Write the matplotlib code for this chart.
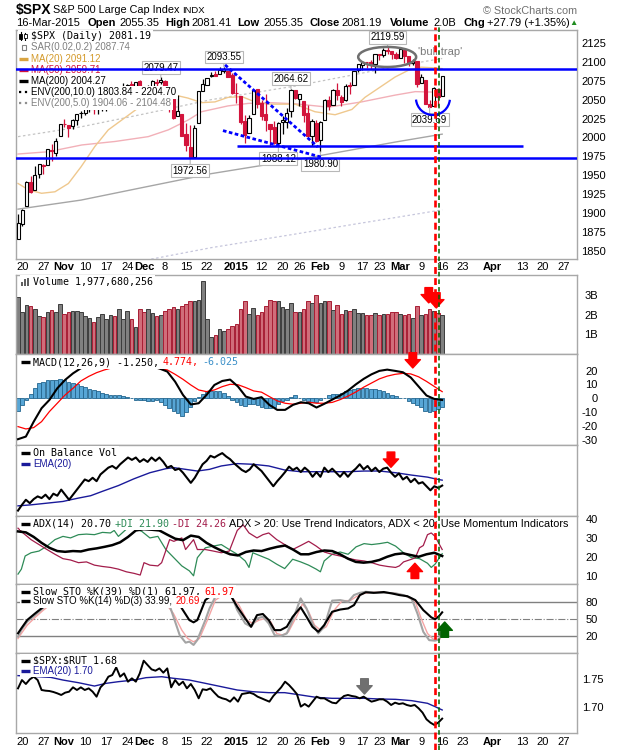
import numpy as np
import pandas as pd
import matplotlib
matplotlib.use("Agg")
import matplotlib.pyplot as plt
import matplotlib.transforms as mtransforms
from matplotlib.patches import Rectangle, Ellipse, Arc
from matplotlib.lines import Line2D
from matplotlib.offsetbox import TextArea, HPacker, DrawingArea, AnchoredOffsetbox

plt.rcParams['font.family'] = ['Liberation Sans', 'DejaVu Sans']
plt.rcParams['text.parse_math'] = False
MONO = 'DejaVu Sans Mono'

# ---------------- data ----------------
holidays = ['2014-11-27', '2014-12-25', '2015-01-01', '2015-01-19', '2015-02-16', '2015-04-03']
tick_dates = ['2014-10-20', '2014-10-27', '2014-11-03', '2014-11-10', '2014-11-17', '2014-11-24',
              '2014-12-01', '2014-12-08', '2014-12-15', '2014-12-22', '2015-01-02', '2015-01-12',
              '2015-01-20', '2015-01-26', '2015-02-02', '2015-02-09', '2015-02-17', '2015-02-23',
              '2015-03-02', '2015-03-09', '2015-03-16', '2015-03-23', '2015-04-01', '2015-04-13',
              '2015-04-20', '2015-04-27']
tick_labels = ['20', '27', 'Nov', '10', '17', '24', 'Dec', '8', '15', '22', '2015', '12',
               '20', '26', 'Feb', '9', '17', '23', 'Mar', '9', '16', '23', 'Apr', '13', '20', '27']
bold_labels = ['Nov', 'Dec', '2015', 'Feb', 'Mar', 'Apr']

prev_close0 = 1862.76
opens = [1864.9, 1885.6, 1909.4, 1941.3, 1931.0, 1951.6, 1962.97, 1964.1, 1983.3, 1979.5, 2001.2,
         2018.2, 2015.8, 2015.3, 2023.3, 2032.4, 2032.0, 2038.2, 2037.8, 2039.2, 2039.7, 2038.3, 2041.5,
         2051.2, 2046.3, 2057.5, 2065.1, 2070.1, 2067.0, 2074.8,
         2065.8, 2053.8, 2067.0, 2073.6, 2072.8, 2074.8, 2056.6, 2058.9, 2027.9, 2030.4, 2005.0, 1986.7,
         1973.8, 2018.98, 2061.0, 2069.3, 2081.5, 2083.3, 2084.3, 2087.6, 2088.5, 2082.1,
         2058.9, 2054.4, 2022.2, 2005.6, 2030.6, 2063.45, 2046.1, 2031.6, 2018.4, 2013.75, 1992.25, 2020.8,
         2020.2, 2034.3, 2062.98, 2050.4, 2047.9, 2032.3, 2002.45, 2019.35,
         1996.7, 2022.7, 2048.9, 2043.45, 2062.3, 2053.5, 2049.4, 2068.55, 2069.98, 2088.8, 2096.5, 2099.2,
         2099.25, 2097.65, 2109.8, 2109.1, 2115.3, 2113.9, 2110.9,
         2105.2, 2115.8, 2107.7, 2098.5, 2100.9, 2072.25, 2076.1, 2044.7, 2041.1, 2064.6, 2055.35]
highs = [1898.2, 1905.0, 1942.5, 1949.3, 1961.9, 1965.3, 1964.6, 1985.1, 1991.4, 1999.4, 2018.2,
         2024.5, 2015.98, 2023.8, 2031.6, 2034.3, 2038.7, 2039.3, 2040.3, 2046.2, 2041.3, 2043.1, 2056.1,
         2052.1, 2054.7, 2071.5, 2070.2, 2074.2, 2073.4, 2075.8,
         2065.8, 2068.8, 2076.3, 2077.3, 2079.47, 2075.8, 2060.6, 2058.9, 2055.5, 2030.4, 2018.7, 2016.9,
         2016.8, 2061.2, 2077.9, 2078.8, 2086.7, 2087.3, 2092.7, 2093.55, 2088.5, 2085.6,
         2072.4, 2054.4, 2030.3, 2029.6, 2064.1, 2064.4, 2049.3, 2056.9, 2018.4, 2021.35, 2020.5, 2028.9,
         2038.3, 2064.62, 2062.98, 2057.6, 2047.9, 2042.5, 2024.6, 2023.3,
         2021.7, 2050.3, 2054.7, 2063.55, 2072.4, 2056.2, 2070.9, 2073.5, 2088.5, 2097.0, 2101.3, 2100.2,
         2102.1, 2110.6, 2110.05, 2117.9, 2119.59, 2113.9, 2112.7,
         2117.5, 2115.8, 2107.7, 2104.25, 2100.9, 2083.5, 2076.1, 2050.1, 2066.4, 2064.6, 2081.41]
lows = [1864.9, 1882.3, 1909.4, 1926.8, 1931.0, 1946.3, 1951.4, 1964.1, 1969.0, 1974.8, 2001.2,
        2013.7, 2001.0, 2010.7, 2015.9, 2025.6, 2030.2, 2033.1, 2031.3, 2030.4, 2035.3, 2034.5, 2041.5,
        2040.4, 2042.5, 2056.8, 2065.1, 2064.75, 2066.6, 2065.1,
        2049.6, 2053.8, 2066.6, 2062.3, 2070.8, 2054.3, 2034.2, 2024.3, 2027.9, 2002.3, 1982.3, 1972.56,
        1973.8, 2018.98, 2061.0, 2069.3, 2079.8, 2081.9, 2084.3, 2085.75, 2079.5, 2057.9,
        2046.0, 2017.3, 1992.4, 2005.6, 2030.6, 2038.3, 2022.6, 2008.25, 1988.4, 1991.5, 1988.12, 2004.5,
        2012.0, 2026.4, 2050.5, 2041.2, 2019.9, 2001.5, 1989.2, 1993.4,
        1980.9, 2022.7, 2036.7, 2043.45, 2049.97, 2041.9, 2048.6, 2057.99, 2069.98, 2086.7, 2089.8, 2092.15,
        2090.8, 2085.4, 2103.0, 2105.9, 2109.9, 2103.8, 2103.75,
        2104.5, 2098.3, 2094.5, 2095.2, 2067.3, 2072.2, 2044.2, 2039.69, 2041.1, 2041.2, 2055.35]
closes = [1886.8, 1904.0, 1941.3, 1927.1, 1950.8, 1964.6, 1961.6, 1985.1, 1982.3, 1994.7, 2018.1,
          2017.8, 2012.1, 2023.6, 2031.2, 2032.0, 2038.3, 2039.7, 2038.3, 2039.3, 2039.8, 2041.3, 2051.8,
          2048.7, 2052.75, 2063.5, 2069.4, 2067.0, 2072.8, 2067.6,
          2053.4, 2066.6, 2074.3, 2071.9, 2075.4, 2060.3, 2059.8, 2026.1, 2035.3, 2002.3, 1989.6, 1972.7,
          2012.9, 2061.2, 2070.65, 2078.5, 2082.2, 2081.9, 2088.8, 2090.6, 2080.35, 2058.9,
          2058.2, 2020.6, 2002.6, 2025.9, 2062.1, 2044.8, 2028.3, 2023.0, 2011.3, 1992.7, 2019.4, 2022.55,
          2032.1, 2063.15, 2051.8, 2057.1, 2029.55, 2002.2, 2021.25, 1994.99,
          2020.85, 2050.0, 2041.5, 2062.5, 2055.5, 2046.7, 2068.6, 2068.5, 2088.5, 2096.99, 2100.3, 2099.7,
          2097.45, 2110.3, 2109.66, 2115.5, 2113.9, 2110.7, 2104.5,
          2117.4, 2107.8, 2098.5, 2101.0, 2071.3, 2079.4, 2044.2, 2040.2, 2065.95, 2053.4, 2081.19]

high_marks = [34, 49, 65, 88]
low_marks = [41, 62, 72, 98]

ma20_day = [0, 2.5, 5.6, 8.8, 12, 15, 18.3, 21.5, 24.7, 27.9, 31, 34.2, 37.4, 40.5, 43.7, 46.9, 50,
            53.3, 56.4, 59.6, 62.8, 66, 70.7, 75.5, 79.5, 82.6, 86.6, 89.8, 93, 96, 99.3, 101]
ma20_val = [1939, 1930.6, 1926, 1928, 1939, 1961, 1988, 2010, 2023, 2036, 2049.6, 2054, 2056, 2052,
            2046, 2047, 2053, 2054, 2047, 2044, 2044, 2044, 2034, 2030, 2037, 2053, 2068, 2080, 2089,
            2093, 2092, 2091.1]
ma50_day = [0, 7.2, 15.2, 23.1, 31, 35.8, 40.5, 43.7, 50, 54.8, 60, 66, 73.9, 81.8, 89.8, 94.6, 101]
ma50_val = [1978, 1981, 1990, 1994.6, 2001, 2010, 2023, 2034, 2041.7, 2045, 2046, 2044.5, 2040, 2047,
            2056, 2060.6, 2059.7]
ma200_day = [0, 15, 30, 46, 66, 80, 90, 101]
ma200_val = [1905, 1917, 1934, 1952, 1970, 1984, 1994, 2004.3]
env_up_val = [2001, 2014, 2031, 2050, 2068, 2083, 2094, 2104.5]
env_lo_val = [1810, 1821, 1837, 1854, 1872, 1885, 1894, 1904.1]

volume_b = [2.92, 2.15, 2.53, 2.44, 2.29, 1.93, 1.88, 2.15, 2.26, 2.14, 2.56, 2.05, 2.15, 2.22, 2.22,
            2.15, 1.93, 1.85, 1.64, 1.88, 2.05, 1.81, 1.98, 1.95, 2.32, 1.81, 2.22, 1.81, 1.37, 2.32,
            2.15, 2.31, 2.10, 1.93, 1.98, 2.22, 2.29, 2.41, 2.31, 2.46, 2.56, 2.74, 2.70, 2.75, 3.76,
            1.81, 0.85, 0.99, 1.30, 1.16, 1.30, 1.42, 1.54, 2.32, 2.74, 2.05, 2.36, 1.98, 2.14, 2.44,
            2.77, 2.70, 2.70, 2.39, 2.31, 2.62, 2.14, 2.14, 2.32, 2.74, 2.60, 3.01, 2.60, 2.74, 2.70,
            2.27, 2.53, 2.05, 2.27, 2.19, 2.32, 2.10, 2.10, 1.98, 2.02, 2.10, 2.02, 2.05, 2.05, 2.15,
            2.15, 2.05, 2.02, 2.05, 1.85, 2.44, 1.98, 2.05, 2.32, 2.22, 2.12, 1.98]

macd_line = [-29.6, -27.7, -16.9, -7.2, -1.2, 7.2, 13.3, 18, 21.7, 24, 25.5, 26.5, 27, 27, 26.5, 25.5,
             24.5, 23, 21.5, 19.3, 12, 2.4, -4.5, -3.6, 2.4, 9.6, 12.5, 13.5, 8.5, 1.2, -0.5, 0.8, -4.8,
             -8.4, -8.4, -4.8, -2.9, -3.6, -6.7, -4, -1, 2, 5.5, 10, 14, 17.3, 19.8, 20.7, 19.8, 18.8,
             15, 8.5, 2, -0.5, -1.25]
macd_signal = [-20.5, -22.2, -21.2, -16.9, -9.6, -3.6, 2.4, 7.2, 12.5, 15.8, 18.5, 20.5, 22, 23, 23.5,
               23.5, 23, 22.3, 21.5, 20.5, 17.3, 13.7, 9.6, 6, 4.8, 6, 8.4, 10.1, 9.8, 7.7, 5.3, 4.4,
               1.2, -1.9, -3.6, -4.3, -3.6, -2.9, -3.6, -3.6, -3, -1, 1.5, 4.5, 8, 11, 14, 16, 17.3,
               18, 17.6, 15.5, 12.2, 8.5, 4.77]
macd_hist = [-9, -5, -1, 3, 7.5, 11, 12, 13, 13, 13.5, 14, 13, 12, 11, 10, 9, 8, 7, 6, 5, 4, 3, 2.5, 2,
             2, 1.5, 1, 0.5, -1, -1.5, -1.5, -2, -2, -1.5, -3, -5, -7, -9, -10.5, -13, -10, -6, -2, 1,
             3, 4.5, 5, 5, 5, 3.5, 1.5, -1, -3, -5, -5.5, -4, -4.5, -5, -6, -7, -7, -6, -4, -2, -1, 1,
             2, 0.5, -1, -2, -3, -3, -1, 0, 2, 3, 3, 4, 5, 6, 7, 7.5, 7.5, 7.5, 7, 6.5, 6, 5, 3.5, 2.5,
             1.5, 0.5, 0, -2, -3.5, -5, -6.5, -9, -10, -9.5, -8, -6]

obv = [1.6, 3.3, 4.8, 3.8, 5.0, 5.8, 5.3, 6.3, 5.0, 6.6, 6.0, 7.8, 6.3, 4.8, 6.3, 7.8, 9.3, 10.8, 10.3,
       11.3, 10.3, 12.3, 13.3, 14.3, 14.8, 14.0, 15.3, 16.3, 17.3, 16.6, 17.3, 16.0, 16.8, 16.0, 17.3,
       16.3, 17.3, 16.0, 14.3, 14.8, 13.6, 14.0, 12.8, 11.3, 9.8, 11.3, 13.3, 15.3, 16.3, 17.8, 17.3,
       18.0, 18.6, 17.6, 16.8, 15.6, 14.6, 13.6, 13.0, 13.8, 15.3, 14.3, 13.3, 11.8, 10.3, 8.8, 10.3,
       11.6, 13.0, 14.6, 13.6, 14.3, 13.0, 14.3, 13.3, 11.6, 13.0, 11.6, 14.3, 13.0, 14.0, 12.8, 11.6,
       13.0, 11.6, 13.0, 14.0, 15.3, 13.8, 14.8, 13.3, 14.3, 13.0, 14.0, 14.3, 12.8, 11.6, 12.6, 10.8,
       11.6, 10.0, 11.0, 9.6, 10.0, 8.8, 7.6, 8.8, 8.3, 9.0]
obv_ema_day = [0, 3.1, 6.9, 10.7, 12.5, 14.4, 17.3, 20.1, 23.9, 27.6, 31.4, 35.2, 37.1, 39.9, 42.7,
               45.6, 48.4, 52.2, 55.9, 59.7, 63.5, 67.3, 71, 74.8, 78.6, 82.4, 86.1, 89.9, 93.7, 97.5,
               99.3, 101]
obv_ema_val = [3.0, 3.3, 3.8, 4.3, 4.8, 5.3, 6.0, 7.3, 9.0, 11.0, 12.8, 14.0, 14.3, 13.8, 13.3, 13.8,
               14.8, 15.5, 15.3, 14.8, 13.6, 13.1, 13.1, 13.1, 13.1, 13.3, 13.3, 12.8, 12.1, 11.5, 11.0,
               10.6]

adx = [33.6, 33.1, 30.7, 27.6, 25, 23.3, 22.9, 23.3, 23.1, 24.1, 24.7, 25.5, 26.4, 27.9, 30.7, 34.1,
       34.8, 34.5, 34.1, 31.9, 29.8, 29, 31.4, 30.7, 27.6, 25.3, 23.3, 21.6, 21, 22.8, 23.6, 23.3, 24.5,
       25.5, 26.2, 24.1, 21.6, 21.6, 22.8, 23.6, 23.3, 21.6, 19.3, 17.6, 17.2, 17.6, 18.6, 20.3, 21.6,
       22.1, 21.2, 20.3, 21.6, 22.4, 20.7]
pdi_day = [0, 0.8, 1.7, 3.1, 5.0, 6.9, 8.8, 10.7, 12.5, 14.4, 16.3, 18.2, 20.1, 22.0, 22.9, 23.9, 25.8,
           27.6, 29.5, 31.4, 33.3, 35.2, 37.1, 39.0, 40.8, 41.8, 42.7, 44.6, 46.5, 48.4, 50.3, 52.2,
           54.1, 55.0, 55.9, 57.8, 59.7, 61.6, 63.5, 65.4, 67.3, 69.2, 71.0, 72.0, 72.9, 74.8, 76.7,
           78.6, 80.5, 82.4, 84.2, 86.1, 88.0, 89.9, 91.8, 93.7, 95.6, 97.5, 98.4, 99.3, 101]
pdi_val = [11.2, 13.8, 20.7, 22.4, 23.3, 25.9, 29.3, 31, 30.2, 31.9, 32.2, 31.9, 33.1, 32.8, 34.1, 31,
           34.8, 35.3, 33.6, 30.2, 31, 24.1, 19.8, 15.5, 12.9, 10.3, 19.8, 25, 25.9, 26.7, 24.1, 21.6,
           18.1, 14.7, 22.4, 20.7, 19, 16.4, 14.1, 19, 17.6, 15.9, 13.8, 12.4, 18.1, 21.6, 22.8, 21.6,
           25.5, 27.2, 26.7, 27.2, 27.9, 25.9, 22.4, 19.8, 19.3, 16.9, 14.7, 16.4, 21.9]
mdi_day = [0, 1.2, 3.1, 5.0, 6.9, 8.8, 10.7, 12.5, 14.4, 16.3, 18.2, 20.1, 22.0, 23.9, 25.8, 27.6, 29.1,
           30.0, 31.4, 33.3, 34.2, 36.1, 37.1, 39.0, 39.9, 41.8, 42.7, 44.6, 46.5, 48.4, 50.3, 52.2,
           53.6, 55.0, 56.9, 58.3, 59.7, 61.6, 63.5, 65.4, 67.3, 69.2, 71.0, 72.9, 74.8, 76.7, 78.6,
           80.5, 82.4, 84.2, 86.1, 88.0, 89.9, 90.8, 91.8, 93.7, 94.6, 95.6, 96.5, 97.5, 98.4, 99.3, 101]
mdi_val = [35.3, 32.8, 29.3, 26.7, 24.1, 21.6, 19.3, 18.6, 17.2, 17.6, 15.9, 15.2, 14.7, 13.8, 12.4,
           11.6, 10.7, 17.2, 15.9, 15.5, 17.2, 29.3, 28.4, 30.2, 24.1, 29.3, 24.1, 24.1, 23.3, 22.4,
           23.3, 34.1, 37.1, 32.8, 30.2, 31.9, 32.8, 29.3, 26.7, 24.1, 26.2, 28.4, 25.9, 22.8, 21.6,
           20.7, 19.5, 18.6, 18.1, 17.2, 15.9, 15.2, 14.7, 15.5, 17.6, 19, 19.8, 25, 26.2, 31.9, 32.8,
           31, 24.1]

sto39_day = [0, 0.8, 2.2, 4.1, 5.9, 6.9, 8, 10, 13, 16, 20, 25, 30, 34, 36.5, 38.5, 40.8, 41.8, 42.7,
             44.6, 46.5, 48.5, 50.8, 52.2, 54.1, 55.5, 56.9, 58.3, 59.7, 61.1, 62.5, 64, 65.4, 67.3,
             68.7, 70.1, 71.5, 72.9, 74.8, 76.7, 78.6, 80, 81.4, 82.8, 84.7, 87.1, 89, 90.8, 92.7, 94.6,
             96.5, 98.4, 99.3, 100.3, 101]
sto39_val = [24.3, 33.3, 48.3, 60.2, 71, 75, 82, 88, 94, 97, 98, 98, 95, 96, 90, 75, 48, 44, 48, 84,
             95, 96, 90, 72, 51, 36, 57, 59, 48, 30, 30, 36, 54, 71, 54, 36, 27, 39, 63, 67, 69, 75, 93,
             98, 97, 98.5, 96, 93, 91, 84, 66, 53, 49.5, 55.5, 62]
sto14_day = [0, 0.8, 2.2, 4.1, 5.9, 8, 12, 18, 25, 30, 34, 36.2, 38.5, 39.9, 40.8, 41.8, 42.7, 44.6,
             45.6, 47, 49, 50.8, 52.2, 54.1, 55.5, 56.9, 58.3, 59.7, 61.1, 62.5, 64, 65.4, 67.3, 68.7,
             70.1, 71.5, 72.9, 74.8, 76.7, 78.6, 80, 81.4, 82.8, 85.2, 87.5, 89.9, 91.8, 93.7, 95.1,
             96.5, 97.9, 99.3, 100.3, 101]
sto14_val = [18.3, 30.3, 45.3, 57.2, 69.2, 85, 95, 97, 96, 90, 88, 72, 21, 7.5, 9.3, 3.4, 12.3, 48, 69,
             90, 96, 93, 66, 42, 36, 51, 54, 42, 21, 19.5, 24, 48, 87, 69, 42, 24, 36, 83, 84, 81, 93,
             97, 99, 97, 97, 96, 93, 87, 60, 27, 12, 11, 13.5, 34]
stod_day = [0, 0.8, 2.2, 4.1, 5.9, 8, 12, 18, 25, 30, 34, 37, 39, 40.4, 41.8, 43.2, 45.1, 47, 49, 50.8,
            52.6, 54.5, 55.9, 57.4, 58.8, 60.2, 61.6, 63, 64.4, 66.3, 67.7, 69.2, 70.6, 72, 73.4, 75.3,
            77.2, 79.1, 80.5, 82.4, 84.2, 86.1, 89, 90.8, 92.7, 94.6, 96, 97.5, 98.9, 100.3, 101]
stod_val = [15, 24, 39, 53, 65, 78, 92, 96, 96, 91, 89, 60, 30, 15, 9, 15, 48, 84, 94, 90, 75, 48, 42,
            48, 51, 45, 24, 21, 27, 54, 77, 63, 39, 30, 36, 66, 83, 83, 90, 96, 98, 98, 97, 95, 90, 81,
            51, 24, 13.5, 13.5, 20.7]

ratio = [1.7335, 1.7482, 1.7412, 1.7494, 1.7541, 1.7482, 1.7306, 1.7294, 1.7288, 1.7271, 1.7247,
         1.7218, 1.7259, 1.7276, 1.7353, 1.7306, 1.7353, 1.7306, 1.7335, 1.7276, 1.7188, 1.7353,
         1.7424, 1.7541, 1.7571, 1.7706, 1.7541, 1.7600, 1.7453, 1.7512, 1.7453, 1.7600, 1.7824,
         1.7747, 1.7671, 1.7647, 1.7688, 1.7612, 1.7688, 1.7353, 1.7482, 1.7394, 1.7453, 1.7335,
         1.7412, 1.7306, 1.7159, 1.7318, 1.7306, 1.7335, 1.7259, 1.7188, 1.7159, 1.7141, 1.7100,
         1.7176, 1.7100, 1.7235, 1.7247, 1.7259, 1.7235, 1.7188, 1.7159, 1.7129, 1.7100, 1.7200,
         1.7276, 1.7353, 1.7453, 1.7394, 1.7318, 1.7235, 1.7012, 1.7059, 1.7012, 1.7100, 1.7188,
         1.7159, 1.7159, 1.7118, 1.7082, 1.7071, 1.7141, 1.7200, 1.7218, 1.7200, 1.7188, 1.7159,
         1.7188, 1.7141, 1.7100, 1.7118, 1.7141, 1.7141, 1.7100, 1.7041, 1.7082, 1.7059, 1.7071,
         1.7041, 1.7024, 1.7041, 1.6982, 1.6906, 1.6788, 1.6729, 1.6688, 1.6729, 1.6800]
ratio_ema_day = [0, 7.8, 10.7, 14.4, 18.2, 21, 23.9, 27.6, 30.5, 34.2, 37.1, 40.8, 44.6, 48.4, 52.2,
                 55.9, 59.7, 63.5, 67.3, 71, 74.8, 78.6, 82.4, 86.1, 89.9, 93.7, 97.5, 99.3, 101]
ratio_ema_val = [1.756, 1.7529, 1.7482, 1.7435, 1.7376, 1.7424, 1.7453, 1.7482, 1.7524, 1.7541, 1.7512,
                 1.7482, 1.7424, 1.7365, 1.7306, 1.7276, 1.7259, 1.7259, 1.7218, 1.7176, 1.7159, 1.7159,
                 1.7159, 1.7147, 1.7141, 1.7118, 1.7071, 1.7012, 1.6953]

# hand-drawn annotations (trading-day, value)
resist_level = 2091
support_level = 1973.3
short_support = (1989.2, 52.1, 120.2)
trend_a = ([49.3, 71.4], [2096, 1987.4])
trend_b = ([48.8, 72.6], [2009, 1973.3])
red_marker_day = 99.3
green_marker_day = 100.3

# ---------------- layout ----------------
W, H = 620, 750
PL, PR = 16, 577
fig = plt.figure(figsize=(W / 100, H / 100), dpi=100)
cal = pd.bdate_range('2014-10-17', '2015-04-30', freq='C', holidays=holidays)
tick_pos = [cal.get_loc(pd.Timestamp(d)) for d in tick_dates]
days = np.arange(len(closes))
red = '#d3143c'
navy = '#1a1a9a'


def panel(top, bottom):
    ax = fig.add_axes([PL / W, 1 - bottom / H, (PR - PL) / W, (bottom - top) / H])
    ax.set_xlim(-0.48, 133.1)
    for s in ax.spines.values():
        s.set_color('#a8a8a8')
        s.set_linewidth(1)
    ax.yaxis.tick_right()
    ax.tick_params(axis='both', length=0, labelsize=8)
    ax.set_xticks(tick_pos)
    ax.tick_params(axis='x', labelbottom=False)
    ax._hpx = bottom - top
    return ax


def yaxis(ax, ticks, labels, right=True, pad=15):
    ax.set_yticks(ticks)
    ax.set_yticklabels(labels)
    ax.tick_params(axis='y', pad=pad)
    if right:
        for t in ax.get_yticklabels():
            t.set_ha('right')


def dates(ax, pad):
    ax.tick_params(axis='x', labelbottom=True, pad=pad)
    ax.set_xticklabels(tick_labels)
    for t in ax.get_xticklabels():
        if t.get_text() in bold_labels:
            t.set_fontweight('bold')


def txt(s, color='black', family=MONO, size=7.2):
    return TextArea(s, textprops=dict(color=color, family=family, size=size))


def dash(color, ls='-', lw=2.4):
    da = DrawingArea(6.5, 5, 0, 0)
    da.add_artist(Line2D([0, 6.5], [2.5, 2.5], color=color, lw=lw, ls=ls, solid_capstyle='butt'))
    return da


def legend_row(ax, y_px, items, x_px=3.5):
    hp = HPacker(children=items, align='center', pad=0, sep=2.4)
    ab = AnchoredOffsetbox(loc='center left', child=hp, pad=0.1, borderpad=0, frameon=True,
                           bbox_to_anchor=(x_px / (PR - PL), 1 - y_px / ax._hpx),
                           bbox_transform=ax.transAxes)
    ab.patch.set_facecolor('white')
    ab.patch.set_edgecolor('none')
    ab.set_zorder(8)
    ax.add_artist(ab)


def block_arrow(ax, x, y, color, up=False):
    ax.annotate('', xy=(x, y), xytext=(0, -11 if up else 11), textcoords='offset points',
                arrowprops=dict(arrowstyle='simple,head_length=0.6,head_width=1.1,tail_width=0.55',
                                color=color, shrinkA=0, shrinkB=0, mutation_scale=10),
                zorder=15, annotation_clip=False)


# ---------------- header ----------------
fig.text(16 / W, 1 - 10 / H, '$SPX', fontsize=10, fontweight='bold', va='center')
fig.text(53 / W, 1 - 10 / H, 'S&P 500 Large Cap Index', fontsize=7.8, va='center')
fig.text(182 / W, 1 - 10.5 / H, 'INDX', fontsize=6.8, va='center')
fig.text(PR / W, 1 - 11 / H, '\u00a9 StockCharts.com', fontsize=7.8, color='#707070', va='center',
         ha='right')
head = [(16, '16-Mar-2015', False), (88, 'Open', True), (119, '2055.35', False), (165, 'High', True),
        (191, '2081.41', False), (237, 'Low', True), (263, '2055.35', False), (310, 'Close', True),
        (341, '2081.19', False), (390, 'Volume', True), (433, '2.0B', False), (463, 'Chg', True),
        (487, '+27.79 (+1.35%)', False)]
for x, s, b in head:
    fig.text(x / W, 1 - 23.5 / H, s, fontsize=8, va='center', fontweight='bold' if b else 'normal')
fig.text(569 / W, 1 - 23.5 / H, '\u25b2', fontsize=6, color='#1e8c1e', va='center')

# ---------------- price panel ----------------
ax_p = panel(30, 259)
ax_p.set_ylim(1839, 2142.2)
yaxis(ax_p, list(range(1850, 2126, 25)), [str(v) for v in range(1850, 2126, 25)], right=False, pad=3)
dates(ax_p, 2.2)

ax_p.plot(ma200_day, env_up_val, color='#c4c4c4', lw=0.9, ls=(0, (2, 2)), zorder=2)
ax_p.plot(ma200_day, env_lo_val, color='#c6c6dc', lw=0.9, ls=(0, (2, 2)), zorder=2)
ax_p.plot(ma200_day, ma200_val, color='#a6a6a6', lw=1.0, zorder=2)
ax_p.plot(ma50_day, ma50_val, color='#f2b0b8', lw=1.0, zorder=2)
ax_p.plot(ma20_day, ma20_val, color='#efc88e', lw=1.0, zorder=2)

prev = [prev_close0] + closes[:-1]
for i in days:
    o, h, l, c = opens[i], highs[i], lows[i], closes[i]
    col = red if c < prev[i] else 'black'
    ax_p.vlines(i, l, h, color=col, lw=0.9, zorder=3)
    lo, hi = min(o, c), max(o, c)
    face = 'white' if c >= o else col
    ax_p.add_patch(Rectangle((i - 0.36, lo), 0.72, max(hi - lo, 0.6), facecolor=face,
                             edgecolor=col, lw=0.8, zorder=4))

box = dict(boxstyle='square,pad=0.15', fc='white', ec='#b8b8b8', lw=0.8)
lead = dict(arrowstyle='-', color='#b8b8b8', lw=0.8, shrinkA=0, shrinkB=0)
for i in high_marks:
    ax_p.annotate(f'{highs[i]:.2f}', xy=(i, highs[i]), xytext=(0, 7), textcoords='offset points',
                  ha='center', va='center', fontsize=7, bbox=box, arrowprops=lead, zorder=9)
for i in low_marks:
    ax_p.annotate(f'{lows[i]:.2f}', xy=(i, lows[i]), xytext=(0, -9), textcoords='offset points',
                  ha='center', va='center', fontsize=7, bbox=box, arrowprops=lead, zorder=9)

blue = '#0000ff'
ax_p.axhline(resist_level, color=blue, lw=1.8, zorder=12)
ax_p.axhline(support_level, color=blue, lw=1.8, zorder=12)
ax_p.hlines(short_support[0], short_support[1], short_support[2], color=blue, lw=1.8, zorder=12)
ax_p.plot(*trend_a, color=blue, lw=2.0, ls=(0, (1.3, 0.9)), zorder=12)
ax_p.plot(*trend_b, color=blue, lw=2.0, ls=(0, (1.3, 0.9)), zorder=12)
ax_p.add_patch(Ellipse((87.9, 2106.5), 13.8, 26.5, fill=False, ec='#707070', lw=1.8, zorder=11))
ax_p.text(95.2, 2113, "'bull trap'", color='#7a7a7a', fontsize=8, va='center', ha='left', zorder=11)
ax_p.add_patch(Arc((98.8, 2052.2), 8.1, 45, theta1=208, theta2=329, color=blue, lw=1.6, zorder=11))

icon = DrawingArea(6.5, 6, 0, 0)
icon.add_artist(Line2D([1.2, 1.2], [0, 6], color='black', lw=0.8))
icon.add_artist(Rectangle((0.3, 1.2), 1.8, 3.6, fc='black', ec='black', lw=0.6))
icon.add_artist(Line2D([4.6, 4.6], [0.5, 5.5], color='black', lw=0.8))
icon.add_artist(Rectangle((3.7, 1.6), 1.8, 3.0, fc='white', ec='black', lw=0.6))
sar = DrawingArea(6.5, 5, 0, 0)
sar.add_artist(Rectangle((2, 1), 3, 3, fc='white', ec='#808080', lw=0.8))
AR = 'Liberation Sans'
main_rows = [
    [icon, txt('$SPX (Daily) 2081.19')],
    [sar, txt('SAR(0.02,0.2) 2087.74', '#808080', AR, 7)],
    [dash('#d9a441'), txt('MA(20) 2091.12', '#d49a2a', AR, 7)],
    [dash(red), txt('MA(50) 2059.71', red, AR, 7)],
    [dash('black'), txt('MA(200) 2004.27', 'black', AR, 7)],
    [dash('black', ':', 1.6), txt('ENV(200,10.0) 1803.84 - 2204.70', 'black', AR, 7)],
    [dash('#909090', ':', 1.6), txt('ENV(200,5.0) 1904.06 - 2104.48', '#808080', AR, 7)],
]
for k, row in enumerate(main_rows):
    legend_row(ax_p, 6.3 + 11.2 * k, row, x_px=1.5)

# ---------------- volume ----------------
ax_v = panel(275, 354)
ax_v.set_ylim(0, 4.05)
yaxis(ax_v, [1, 2, 3], ['1B', '2B', '3B'])
vcol = ['#d06d7a' if closes[i] < prev[i] else '#808080' for i in days]
vedge = ['#a81e34' if closes[i] < prev[i] else '#3c3c3c' for i in days]
ax_v.bar(days, volume_b, width=0.82, color=vcol, edgecolor=vedge, lw=0.7, zorder=2)
vicon = DrawingArea(6.5, 6, 0, 0)
for j, hh in enumerate([3, 5, 6]):
    vicon.add_artist(Rectangle((0.3 + 2.1 * j, 0), 1.4, hh, fc='#606060', ec='none'))
legend_row(ax_v, 6.7, [vicon, txt('Volume 1,977,680,256')])
block_arrow(ax_v, 97.8, 2.62, '#ff0000')
block_arrow(ax_v, 99.6, 2.36, '#ff0000')

# ---------------- MACD ----------------
ax_m = panel(354, 445)
ax_m.set_ylim(-33.8, 32)
yaxis(ax_m, [-30, -20, -10, 0, 10, 20], ['-30', '-20', '-10', '0', '10', '20'])
ax_m.bar(days, macd_hist, width=0.9, color='#57a6d6', edgecolor='#24668f', lw=0.6, zorder=2)
mx = np.linspace(0, 101, len(macd_line))
ax_m.plot(mx, macd_signal, color='#ff0000', lw=0.9, zorder=3)
ax_m.plot(mx, macd_line, color='black', lw=1.5, zorder=4)
legend_row(ax_m, 8.2, [dash('black'), txt('MACD(12,26,9) -1.250,'), txt('4.774,', '#ff0000'),
                       txt('-6.025', '#3a8fc8')])
block_arrow(ax_m, 94, 21.9, '#ff0000')

# ---------------- OBV ----------------
ax_o = panel(445, 516)
ax_o.set_ylim(0, 21)
ax_o.set_yticks([])
ax_o.plot(obv_ema_day, obv_ema_val, color=navy, lw=1.0, zorder=3)
ax_o.plot(np.linspace(0, 101, len(obv)), obv, color='black', lw=1.5, zorder=4)
legend_row(ax_o, 7.8, [dash('black'), txt('On Balance Vol')])
legend_row(ax_o, 18.8, [dash(navy), txt('EMA(20)', navy, AR, 7)])
block_arrow(ax_o, 88.8, 14.4, '#ff0000')

# ---------------- ADX ----------------
ax_a = panel(516, 584)
ax_a.set_ylim(6, 41.7)
yaxis(ax_a, [10, 20, 30, 40], ['10', '20', '30', '40'])
ax_a.plot(pdi_day, pdi_val, color='#2e8b57', lw=0.9, zorder=3)
ax_a.plot(mdi_day, mdi_val, color='#a31d4b', lw=0.9, zorder=3)
ax_a.plot(np.linspace(0, 101, len(adx)), adx, color='black', lw=1.8, zorder=4)
legend_row(ax_a, 7.8, [dash('black'), txt('ADX(14) 20.70'), txt('+DI 21.90', '#2e8b57'),
                       txt('-DI 24.26', '#a31d4b')])
ax_a.text(1 - 9 / (PR - PL), 1 - 7.8 / 68, 'ADX > 20: Use Trend Indicators, ADX < 20: Use Momentum Indicators',
          transform=ax_a.transAxes, ha='right', va='center', fontsize=7.8, zorder=9)
block_arrow(ax_a, 94.5, 16.9, '#ff0000', up=True)

# ---------------- Slow STO ----------------
ax_s = panel(584, 653)
ax_s.set_ylim(-11.1, 112.9)
yaxis(ax_s, [20, 50, 80], ['20', '50', '80'])
ax_s.axhline(80, color='#808080', lw=1.0, zorder=1)
ax_s.axhline(20, color='#808080', lw=1.0, zorder=1)
ax_s.axhline(50, color='#808080', lw=0.8, ls='-.', zorder=1)
ax_s.plot(stod_day, stod_val, color='#f4a4a4', lw=1.0, zorder=3)
ax_s.plot(sto14_day, sto14_val, color='#a4a4a4', lw=1.5, zorder=3)
ax_s.plot(sto39_day, sto39_val, color='black', lw=1.5, zorder=4)
legend_row(ax_s, 7.7, [dash('black'), txt('Slow STO %K(39) %D(1) 61.97,'), txt('61.97', '#ff0000')])
legend_row(ax_s, 17.4, [dash('black'), txt('Slow STO %K(14) %D(3) 33.99,', 'black', AR, 7),
                        txt('20.69', '#ff0000', AR, 7)])
block_arrow(ax_s, 101.6, 44.6, '#006400', up=True)

# ---------------- SPX:RUT ----------------
ax_r = panel(653, 733)
ax_r.set_ylim(1.6546, 1.796)
yaxis(ax_r, [1.70, 1.75], ['1.70', '1.75'], right=False, pad=4)
dates(ax_r, 2.6)
ax_r.plot(ratio_ema_day, ratio_ema_val, color=navy, lw=1.0, zorder=3)
ax_r.plot(np.linspace(0, 101, len(ratio)), ratio, color='black', lw=1.4, zorder=4)
legend_row(ax_r, 7.5, [dash('black'), txt('$SPX:$RUT 1.68')])
legend_row(ax_r, 17.8, [dash(navy), txt('EMA(20) 1.70', navy, AR, 7)])
block_arrow(ax_r, 82.5, 1.7235, '#707070')

# ---------------- vertical markers ----------------
blend = mtransforms.blended_transform_factory(ax_p.transData, fig.transFigure)
fig.add_artist(Line2D([red_marker_day] * 2, [0, 1 - 27 / H], transform=blend, color='#ff0000',
                      lw=1.9, ls=(0, (2.6, 1.6)), zorder=20))
fig.add_artist(Line2D([green_marker_day] * 2, [0, 1 - 27 / H], transform=blend, color='#006400',
                      lw=1.1, ls=(0, (3, 2)), zorder=20))

fig.savefig('out.png', dpi=100, facecolor='white')
